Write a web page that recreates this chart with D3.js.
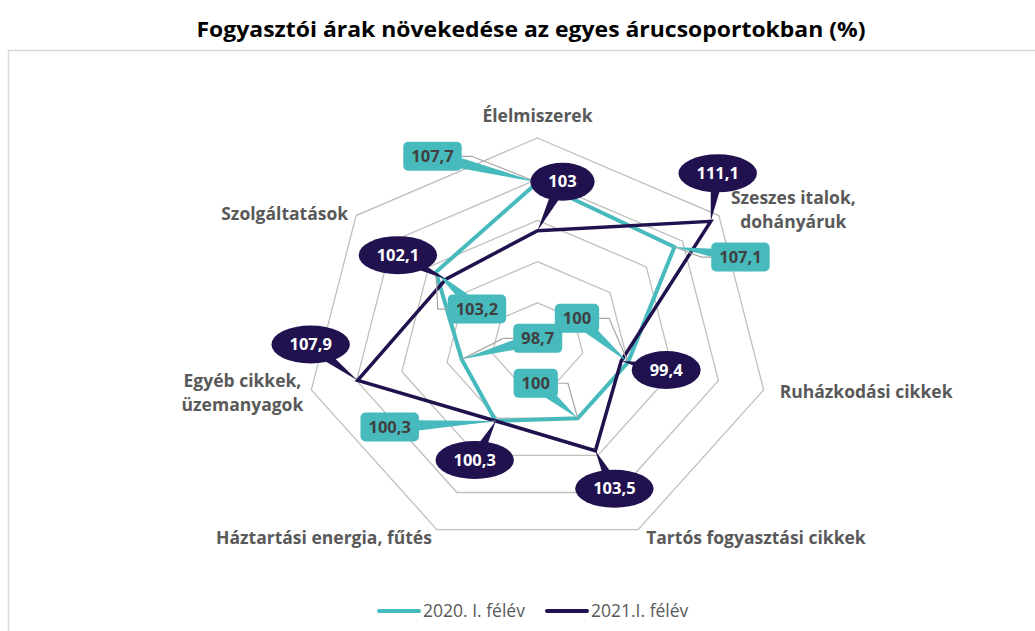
<!DOCTYPE html>
<html>
<head>
<meta charset="utf-8">
<script src="https://cdn.jsdelivr.net/npm/d3@7"></script>
<style>
  body { margin: 0; background: #fff; }
  svg { display: block; }
</style>
</head>
<body>
<div id="chart"></div>
<script>
// categories clockwise from the top
var categories = [
    ["Élelmiszerek"],
    ["Szeszes italok,", "dohányáruk"],
    ["Ruházkodási cikkek"],
    ["Tartós fogyasztási cikkek"],
    ["Háztartási energia, fűtés"],
    ["Egyéb cikkek,", "üzemanyagok"],
    ["Szolgáltatások"]
];
var series2020 = [107.7, 107.1, 100, 100, 100.3, 98.7, 103.2];
var series2021 = [103, 111.1, 99.4, 103.5, 100.3, 107.9, 102.1];
var seriesNames = ["2020. I. félév", "2021.I. félév"];
var axisMin = 92, axisMax = 112, axisStep = 4;

// where the callouts were dragged to, relative to their point
var offs2020 = [[-105, -26], [66, 10], [-51, -44], [-42, -35], [-106, 6], [76, -21], [41, 37]];
var offs2021 = [[25, -49], [7, -48], [45, 9], [19, 38], [-21, 39], [-47, -36], [-48, -24]];
// category label nudges
var catOffs = [[0, -22], [12, -6], [16, 2], [8, 8], [-5, 8], [-8, 3], [-8, -2]];

var width = 1035, height = 631;
var cx = 537.5, cy = 344, rx = 232, ry = 206;
var teal = "#47BABD", navy = "#21124F";

var fmt = function(v) { return String(v).replace(".", ","); };

var svg = d3.select("#chart").append("svg")
    .attr("width", width)
    .attr("height", height)
    .style("font-family", "'Open Sans', sans-serif");

// frame
svg.append("rect")
    .attr("x", 8.5).attr("y", 50.5)
    .attr("width", 1100).attr("height", 700)
    .attr("fill", "none")
    .attr("stroke", "#d9d9d9")
    .attr("stroke-width", 1.5);

svg.append("text")
    .attr("x", 531).attr("y", 37)
    .attr("text-anchor", "middle")
    .attr("font-size", 22)
    .attr("font-weight", "bold")
    .attr("fill", "#000")
    .attr("textLength", 669)
    .attr("lengthAdjust", "spacingAndGlyphs")
    .text("Fogyasztói árak növekedése az egyes árucsoportokban (%)");

var n = categories.length;
var angle = d3.scaleLinear().domain([0, n]).range([0, 2 * Math.PI]);
var r = d3.scaleLinear().domain([axisMin, axisMax]).range([0, 1]);

function pos(i, v) {
    var a = angle(i), f = r(v);
    return [cx + rx * f * Math.sin(a), cy - ry * f * Math.cos(a)];
}

var line = d3.line().curve(d3.curveLinearClosed);

// grid rings
var ticks = d3.range(axisMin + axisStep, axisMax + 0.001, axisStep);
svg.append("g").selectAll("path")
    .data(ticks)
    .enter().append("path")
    .attr("d", function(t) {
        return line(d3.range(n).map(function(i) { return pos(i, t); }));
    })
    .attr("fill", "none")
    .attr("stroke", "#bfbfbf")
    .attr("stroke-width", 1.3);

// category labels
var catG = svg.append("g")
    .attr("font-size", 17.5)
    .attr("font-weight", "bold")
    .attr("fill", "#595959");
categories.forEach(function(lines, i) {
    var p = pos(i, axisMax);
    var s = Math.sin(angle(i));
    var x = p[0] + catOffs[i][0], y = p[1] + catOffs[i][1];
    var t = catG.append("text")
        .attr("text-anchor", "middle");
    var spans = lines.map(function(l, k) {
        return t.append("tspan").attr("x", 0)
            .attr("y", y + (k - (lines.length - 1) / 2) * 24)
            .attr("dy", "0.35em")
            .text(l);
    });
    var w = d3.max(spans, function(sp) { return sp.node().getComputedTextLength(); });
    var mid = s > 0.1 ? x + w / 2 : (s < -0.1 ? x - w / 2 : x);
    spans.forEach(function(sp) { sp.attr("x", mid); });
});

// series lines
var allSeries = [
    { values: series2020, color: teal, offs: offs2020, width: 4, shape: "rect" },
    { values: series2021, color: navy, offs: offs2021, width: 3.5, shape: "ellipse" }
];
allSeries.forEach(function(s) {
    svg.append("path")
        .attr("d", line(s.values.map(function(v, i) { return pos(i, v); })))
        .attr("fill", "none")
        .attr("stroke", s.color)
        .attr("stroke-width", s.width)
        .attr("stroke-linejoin", "miter");
});

// callouts
var labG = svg.append("g")
    .attr("font-size", 16.5)
    .attr("font-weight", "bold");
allSeries.forEach(function(s) {
    s.values.forEach(function(v, i) {
        var p = pos(i, v);
        var lx = p[0] + s.offs[i][0], ly = p[1] + s.offs[i][1];
        var g = labG.append("g");
        var t = g.append("text")
            .attr("x", lx).attr("y", ly).attr("dy", "0.35em")
            .attr("text-anchor", "middle")
            .attr("fill", s.shape === "rect" ? "#404040" : "#fff")
            .text(fmt(v));
        var tw = t.node().getComputedTextLength();
        var hw = s.shape === "rect" ? tw / 2 + 8 : tw / 2 + 18;
        var hh = s.shape === "rect" ? 14.5 : 19;

        // leader line for the boxed labels
        if (s.shape === "rect") {
            var side = p[0] > lx ? 1 : -1;
            var ex = lx + side * hw;
            g.insert("polyline", "text")
                .attr("points", [[ex, ly], [ex + side * 10, ly], p].join(" "))
                .attr("fill", "none")
                .attr("stroke", "#a6a6a6")
                .attr("stroke-width", 1.2);
        }
        // wedge pointing at the data point
        var dx = p[0] - lx, dy = p[1] - ly, d = Math.sqrt(dx * dx + dy * dy);
        var px = -dy / d * 7, py = dx / d * 7;
        g.insert("path", "text")
            .attr("d", "M" + (lx + px) + "," + (ly + py) + "L" + p[0] + "," + p[1] +
                "L" + (lx - px) + "," + (ly - py) + "Z")
            .attr("fill", s.color);
        if (s.shape === "rect") {
            g.insert("rect", "text")
                .attr("x", lx - hw).attr("y", ly - hh)
                .attr("width", hw * 2).attr("height", hh * 2)
                .attr("rx", 5)
                .attr("fill", s.color);
        } else {
            g.insert("ellipse", "text")
                .attr("cx", lx).attr("cy", ly)
                .attr("rx", hw).attr("ry", hh)
                .attr("fill", s.color);
        }
    });
});

// legend
var legend = svg.append("g")
    .attr("font-size", 17.5)
    .attr("fill", "#595959");
var legX = [377, 545];
allSeries.forEach(function(s, k) {
    legend.append("line")
        .attr("x1", legX[k] + 2).attr("x2", legX[k] + 42)
        .attr("y1", 611).attr("y2", 611)
        .attr("stroke", s.color)
        .attr("stroke-width", 4)
        .attr("stroke-linecap", "round");
    legend.append("text")
        .attr("x", legX[k] + 46).attr("y", 611).attr("dy", "0.35em")
        .text(seriesNames[k]);
});
</script>
</body>
</html>
